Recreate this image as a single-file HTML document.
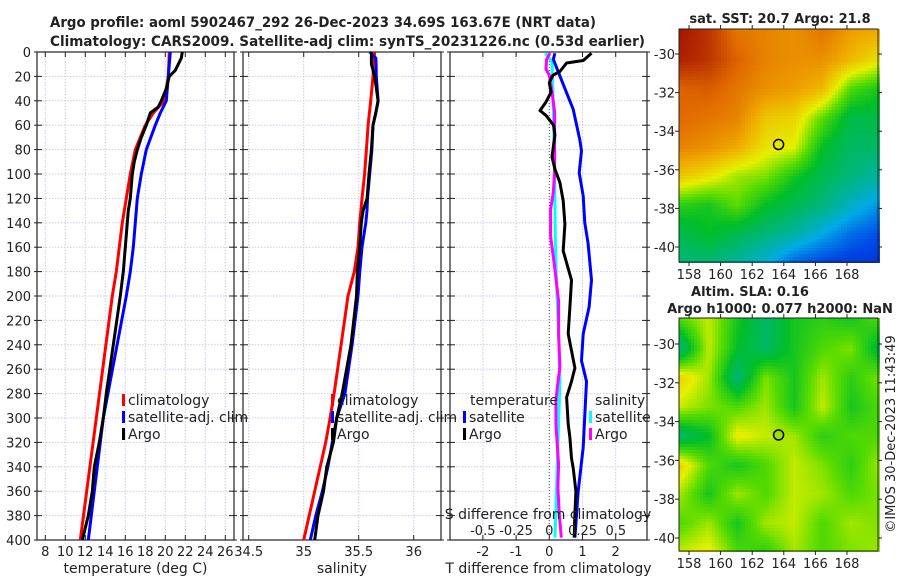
<!DOCTYPE html>
<html><head><meta charset="utf-8"><style>
html,body{margin:0;padding:0;background:#fff;}
svg text{font-family:"DejaVu Sans","Liberation Sans",sans-serif;fill:#222;}
</style></head><body>
<svg id="fig" width="900" height="580" viewBox="0 0 900 580" xmlns="http://www.w3.org/2000/svg">
<text x="50" y="27" font-size="14" font-weight="bold" textLength="546" lengthAdjust="spacingAndGlyphs">Argo profile: aoml 5902467_292 26-Dec-2023 34.69S 163.67E (NRT data)</text>
<text x="50" y="46" font-size="14" font-weight="bold" textLength="595" lengthAdjust="spacingAndGlyphs">Climatology: CARS2009. Satellite-adj clim: synTS_20231226.nc (0.53d earlier)</text>
<text x="780" y="23" font-size="13" font-weight="bold" text-anchor="middle">sat. SST: 20.7 Argo: 21.8</text>
<text x="750" y="296" font-size="13" font-weight="bold" text-anchor="middle">Altim. SLA: 0.16</text>
<text x="780" y="313" font-size="13" font-weight="bold" text-anchor="middle">Argo h1000: 0.077 h2000: NaN</text>
<text transform="translate(895,434) rotate(-90)" font-size="13" text-anchor="middle">©IMOS 30-Dec-2023 11:43:49</text>
<g id="plots"></g>
</svg>
<script>
// ---- data ----
const depthsT = [0,5,10,15,20,30,40,45,50,55,60,70,80,90,100,110,120,130,140,160,180,200,280,300,320,340,360,380,400];
const argoTemp = [21.7,21.6,21.3,21.0,20.4,20.1,19.6,19.3,18.5,18.3,18.1,17.6,17.2,16.9,16.7,16.6,16.5,16.3,16.2,16.0,15.8,15.5,14.1,13.8,13.4,12.9,12.7,12.3,11.7];
const climDepths = [0,20,40,50,60,80,100,120,140,160,180,200,300,400];
const climTemp = [20.4,20.3,19.9,18.8,18.0,17.0,16.5,16.1,15.7,15.4,15.1,14.7,13.1,11.5];
const satTemp = [20.5,20.3,20.1,19.5,19.0,18.1,17.6,17.2,17.0,16.8,16.5,16.1,13.8,12.3];
const salDepths = [0,5,10,20,40,50,60,80,100,120,130,140,160,180,200,240,280,300,320,340,360,380,400];
const climSal = [35.645,35.64,35.635,35.63,35.609,35.597,35.585,35.57,35.554,35.53,35.52,35.509,35.494,35.46,35.403,35.34,35.276,35.24,35.2,35.15,35.1,35.05,35.0];
const satSal = [35.60,35.655,35.658,35.66,35.676,35.655,35.63,35.62,35.60,35.58,35.575,35.565,35.53,35.51,35.494,35.44,35.375,35.30,35.26,35.22,35.17,35.11,35.06];
const argoSal = [35.615,35.615,35.615,35.645,35.676,35.655,35.63,35.615,35.594,35.576,35.54,35.524,35.509,35.488,35.48,35.43,35.35,35.30,35.27,35.21,35.18,35.13,35.10];
const dTargoDepth = [1,7,9,16,19,25,33,41,48,52,60,68,86,96,107,122,141,163,187,209,231,259,270,283,305,316,333,341,360,379,398];
const dTargo = [1.27,1.02,0.52,0.32,0.11,0.0,0.05,-0.1,-0.28,-0.1,0.13,0.17,0.08,0.17,0.32,0.42,0.47,0.42,0.67,0.62,0.57,0.77,0.67,0.52,0.57,0.62,0.67,0.72,0.80,0.77,0.75];
const dTsatDepth = [1,6,30,47,72,81,99,118,140,157,187,209,231,253,270,324,360,398];
const dTsat = [0.17,0.12,0.47,0.72,0.92,0.97,0.9,1.02,1.07,1.17,1.27,1.2,1.02,0.97,1.12,1.02,0.87,0.77];
const dSargoDepth = [1,6,14,19,33,49,71,99,115,129,151,176,204,231,258,275,286,305,338,357,379,398];
const dSargo = [0.005,-0.02,-0.025,0.0,0.02,0.04,0.04,0.04,0.03,0.01,0.01,0.04,0.07,0.07,0.08,0.06,0.05,0.05,0.07,0.065,0.075,0.09];
const dSsatDepth = [1,8,44,99,151,176,231,270,338,398];
const dSsat = [-0.03,0.02,0.03,0.04,0.045,0.05,0.07,0.08,0.06,0.043];
const depthTicks = [0,20,40,60,80,100,120,140,160,180,200,220,240,260,280,300,320,340,360,380,400];
const tempTicks = [8,10,12,14,16,18,20,22,24,26];
const salTicks = [34.5,35,35.5,36];
const tdiffTicks = [-2,-1,0,1,2];
const sdiffTicks = [-0.5,-0.25,0,0.25,0.5];
const sdiffLabels = ['-0.5','-0.25','0','0.25','0.5'];
const lonTicks = [158,160,162,164,166,168];
const latTicks = [-30,-32,-34,-36,-38,-40];
const sstGrid = [
[.97,.92,.82,.80,.78,.82,.76,.74],
[.95,.92,.85,.80,.78,.78,.72,.66],
[.85,.86,.82,.78,.76,.72,.55,.50],
[.84,.82,.80,.70,.68,.56,.45,.45],
[.80,.78,.74,.66,.64,.48,.42,.42],
[.70,.66,.60,.58,.50,.44,.40,.36],
[.52,.50,.56,.48,.44,.40,.32,.25],
[.44,.48,.44,.40,.36,.28,.20,.16],
[.40,.40,.36,.30,.18,.14,.12,.12]];
const slaGrid = [
[.55,.62,.50,.42,.50,.52,.50,.55],
[.40,.62,.48,.42,.50,.55,.58,.45],
[.68,.60,.40,.58,.50,.60,.52,.58],
[.62,.58,.55,.60,.50,.62,.50,.55],
[.42,.48,.65,.62,.60,.52,.55,.55],
[.68,.55,.50,.55,.62,.58,.52,.60],
[.60,.50,.60,.55,.62,.60,.55,.58],
[.55,.60,.50,.60,.62,.55,.60,.58],
[.62,.65,.55,.52,.60,.55,.58,.60]];
const argoLon = 163.67, argoLat = -34.69;

// ---- helpers ----
const NS='http://www.w3.org/2000/svg';
const root=document.getElementById('plots');
function mk(tag,attrs,parent){const e=document.createElementNS(NS,tag);for(const k in attrs)e.setAttribute(k,attrs[k]);(parent||root).appendChild(e);return e;}
function txt(s,attrs,parent){const e=mk('text',attrs,parent);e.textContent=s;return e;}
const yTop=52,yBot=540;
const yD=d=>yTop+d*(yBot-yTop)/400;

function panel(name,x0,x1,xScale,xTicks,xLabels,title,showY){
  const g=mk('g',{});
  
  
  xTicks.forEach(v=>{const x=xScale(v);const l=mk('line',{x1:x,x2:x,y1:yTop,y2:yBot,stroke:'#c8cdea','stroke-width':1,'stroke-dasharray':'1.5,1.5'},g);});
  depthTicks.forEach(d=>{const y=yD(d);const l=mk('line',{x1:x0,x2:x1,y1:y,y2:y,stroke:'#c8cdea','stroke-width':1,'stroke-dasharray':'1.5,1.5'},g);});
  const fr=mk('rect',{x:x0,y:yTop,width:x1-x0,height:yBot-yTop,fill:'none',stroke:'#222','stroke-width':1.2},g);
  
  depthTicks.forEach(d=>{const y=yD(d);
    mk('line',{x1:x0-3,x2:x0+5,y1:y,y2:y,stroke:'#222'},g);
    mk('line',{x1:x1-5,x2:x1+3,y1:y,y2:y,stroke:'#222'},g);
    if(showY){const t=txt(String(d),{x:x0-6,y:y+5,'font-size':13,'text-anchor':'end'},g);}
  });
  xTicks.forEach((v,i)=>{const x=xScale(v);
    mk('line',{x1:x,x2:x,y1:yBot,y2:yBot-5,stroke:'#222'},g);
    mk('line',{x1:x,x2:x,y1:yTop,y2:yTop+5,stroke:'#222'},g);
    const t=txt(xLabels[i],{x:x,y:556,'font-size':13,'text-anchor':'middle'},g);
  });
  const at=txt(title,{x:(x0+x1)/2,y:573,'font-size':14,'text-anchor':'middle'},g);
  
  return g;
}
function line(g,xs,ds,xScale,color,name,w){
  const pts=xs.map((v,i)=>xScale(v).toFixed(1)+','+yD(ds[i]).toFixed(1)).join(' ');
  const p=mk('polyline',{points:pts,fill:'none',stroke:color,'stroke-width':w||3,'stroke-linejoin':'round'},g);
  
  
}
function legendItem(g,x,y,color,label,name){
  const it=mk('g',{},g);
  
  
  mk('rect',{x:x,y:y-11,width:3,height:12,fill:color},it);
  txt(label,{x:x+6,y:y,'font-size':14},it);
}

const xT=v=>45.3+(v-8)*10;
const p1=panel('temperature-panel',37,234,xT,tempTicks,tempTicks.map(String),'temperature (deg C)',true);
line(p1,climTemp,climDepths,xT,'#f00','temp-climatology-line');
line(p1,satTemp,climDepths,xT,'#00f','temp-satellite-line');
line(p1,argoTemp,depthsT,xT,'#000','temp-argo-line');
legendItem(p1,122,405,'#f00','climatology','legend-climatology');
legendItem(p1,122,422,'#00f','satellite-adj. clim','legend-satellite');
legendItem(p1,122,439,'#000','Argo','legend-argo');

const xS=v=>303.7+(v-35)*110;
const p2=panel('salinity-panel',243,441,xS,salTicks,salTicks.map(String),'salinity',false);
line(p2,climSal,salDepths,xS,'#f00','sal-climatology-line');
line(p2,satSal,salDepths,xS,'#00f','sal-satellite-line');
line(p2,argoSal,salDepths,xS,'#000','sal-argo-line');
legendItem(p2,331,405,'#f00','climatology','legend-climatology-sal');
legendItem(p2,331,422,'#00f','satellite-adj. clim','legend-satellite-sal');
legendItem(p2,331,439,'#000','Argo','legend-argo-sal');

const xDT=v=>549.3+v*33.2;
const xDS=v=>549.3+v*133;
const p3=panel('difference-panel',450,647,xDT,tdiffTicks,tdiffTicks.map(String),'T difference from climatology',false);
const zl=mk('line',{x1:xDT(0),x2:xDT(0),y1:yTop,y2:yBot,stroke:'#555','stroke-dasharray':'1,2'},p3);

line(p3,dSsat,dSsatDepth,xDS,'#0ff','sdiff-satellite-line');
line(p3,dSargo,dSargoDepth,xDS,'#f0f','sdiff-argo-line');
line(p3,dTsat,dTsatDepth,xDT,'#00f','tdiff-satellite-line');
line(p3,dTargo,dTargoDepth,xDT,'#000','tdiff-argo-line');
const st=txt('S difference from climatology',{x:548,y:519,'font-size':14,'text-anchor':'middle'},p3);

sdiffTicks.forEach((v,i)=>{const t=txt(sdiffLabels[i],{x:xDS(v),y:535,'font-size':13,'text-anchor':'middle'},p3);});
const lt=txt('temperature',{x:470,y:405,'font-size':14},p3);
legendItem(p3,463,422,'#00f','satellite','legend-tdiff-satellite');
legendItem(p3,463,439,'#000','Argo','legend-tdiff-argo');
const ls=txt('salinity',{x:595,y:405,'font-size':14},p3);
legendItem(p3,589,422,'#0ff','satellite','legend-sdiff-satellite');
legendItem(p3,589,439,'#f0f','Argo','legend-sdiff-argo');

// colormap
const cmapStops=[[0,[0,0,150]],[0.15,[0,70,230]],[0.28,[0,170,230]],[0.38,[0,180,140]],[0.48,[0,190,40]],[0.56,[90,220,0]],[0.64,[230,240,0]],[0.74,[240,170,0]],[0.84,[225,105,0]],[1,[150,0,0]]];
function cmap(v){v=Math.max(0,Math.min(1,v));for(let i=1;i<cmapStops.length;i++){const [a,ca]=cmapStops[i-1],[b,cb]=cmapStops[i];if(v<=b){const t=(v-a)/(b-a);return 'rgb('+ca.map((c,k)=>Math.round(c+(cb[k]-c)*t)).join(',')+')';}}return 'rgb(150,0,0)';}
function sample(grid,fx,fy){const R=grid.length-1,C=grid[0].length-1;const x=fx*C,y=fy*R;const i=Math.min(Math.floor(y),R-1),j=Math.min(Math.floor(x),C-1);const a=y-i,b=x-j;
  return grid[i][j]*(1-a)*(1-b)+grid[i][j+1]*(1-a)*b+grid[i+1][j]*a*(1-b)+grid[i+1][j+1]*a*b;}
function map(name,x0,y0,x1,y1,lat30y,lat40y,grid,markerFill){
  const g=mk('g',{});
  
  
  const lonX=l=>689+(l-158)*15.8;
  const latY=l=>lat30y+(-30-l)*(lat40y-lat30y)/10;
  const cs=3;
  for(let y=y0;y<y1;y+=cs){for(let x=x0;x<x1;x+=cs){
    const v=sample(grid,(x-x0)/(x1-x0),(y-y0)/(y1-y0));
    mk('rect',{x:x,y:y,width:cs,height:cs,fill:cmap(v)},g);
  }}
  mk('rect',{x:x0,y:y0,width:x1-x0,height:y1-y0,fill:'none',stroke:'#222','stroke-width':1},g);
  lonTicks.forEach(l=>{const x=lonX(l);mk('line',{x1:x,x2:x,y1:y1,y2:y1+4,stroke:'#222'},g);mk('line',{x1:x,x2:x,y1:y0,y2:y0-4,stroke:'#222'},g);
    const t=txt(String(l),{x:x,y:y1+17,'font-size':13,'text-anchor':'middle'},g);});
  latTicks.forEach(l=>{const y=latY(l);mk('line',{x1:x0-4,x2:x0,y1:y,y2:y,stroke:'#222'},g);mk('line',{x1:x1,x2:x1+4,y1:y,y2:y,stroke:'#222'},g);
    const t=txt(String(l),{x:x0-4,y:y+5,'font-size':13,'text-anchor':'end'},g);});
  const m=mk('circle',{cx:lonX(argoLon),cy:latY(argoLat),r:5,fill:markerFill,stroke:'#000','stroke-width':1.5},g);
  
  
}
map('sst-map',679,29,878,262,54,247,sstGrid,'none');
map('sla-map',679,318,878,551,344,538,slaGrid,'#9be000');
</script>
</body></html>
